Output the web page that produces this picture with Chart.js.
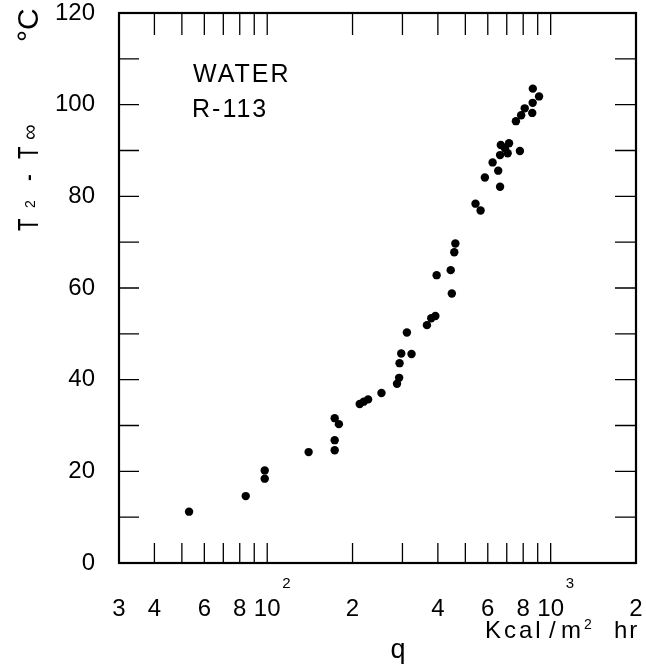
<!DOCTYPE html>
<html lang="en">
<head>
<meta charset="UTF-8">
<title>T2 - Tinf vs q (Water / R-113)</title>
<script src="https://cdn.jsdelivr.net/npm/chart.js@4/dist/chart.umd.min.js"></script>
<style>
  html, body { margin: 0; padding: 0; background: #fff; }
</style>
</head>
<body>
<canvas id="canvas" width="646" height="666"></canvas>
<script>
    // heat flux q, Kcal/m2 hr
    const qValues = [53, 84, 98, 98, 140, 173, 179, 173, 173, 212, 219, 227, 253, 287, 292, 293, 297, 323,
        311, 366, 379, 392, 396, 448, 444, 457, 461, 543, 566, 663, 586, 653, 624, 663, 705, 779,
        690, 667, 713, 754, 787, 810, 861, 864, 910, 865];
    // temperature difference T2 - Tinf, deg C
    const dtValues = [11.2, 14.6, 20.2, 18.4, 24.2, 31.6, 30.3, 26.8, 24.6, 34.7, 35.2, 35.7, 37.1, 39.1, 40.4, 43.6, 45.7, 45.6,
        50.3, 51.9, 53.4, 53.9, 62.8, 58.8, 63.9, 67.8, 69.7, 78.4, 76.9, 82.1, 84.1, 85.6, 87.4, 89.0, 89.4, 89.9,
        90.5, 91.2, 91.6, 96.4, 97.7, 99.2, 98.2, 100.4, 101.8, 103.5];

    // axis ticks
    const xTickValues = [30, 40, 50, 60, 70, 80, 90, 100, 200, 300, 400, 500, 600, 700, 800, 900, 1000, 2000];
    const xTickLabels = {30: '3', 40: '4', 60: '6', 80: '8', 100: '10', 200: '2', 400: '4', 600: '6', 800: '8', 1000: '10', 2000: '2'};
    const xTickPowers = {100: '2', 1000: '3'};
    const yTickValues = [0, 10, 20, 30, 40, 50, 60, 70, 80, 90, 100, 110, 120];
    const yTickLabels = {0: '0', 20: '20', 40: '40', 60: '60', 80: '80', 100: '100', 120: '120'};
    const notes = ['WATER', 'R-113'];

    const FONT = '"Liberation Sans", Arial, sans-serif';

    function font(size) {
        return size + 'px ' + FONT;
    }

    // no extra room for edge labels, the frame sits where the layout padding says
    function noPadding(s) {
        s.paddingLeft = 0;
        s.paddingRight = 0;
        s.paddingTop = 0;
        s.paddingBottom = 0;
    }

    // frame, inward tick marks, superscripts and titles
    const framePlugin = {
        id: 'frame',
        afterDraw(chart) {
            const {ctx, chartArea: a, scales: {x, y}} = chart;
            ctx.save();
            ctx.strokeStyle = '#000';
            ctx.fillStyle = '#000';

            ctx.lineWidth = 2.2;
            ctx.strokeRect(a.left, a.top, a.right - a.left, a.bottom - a.top);

            ctx.lineWidth = 1.3;
            ctx.beginPath();
            xTickValues.forEach(v => {
                if (v <= x.min || v >= x.max) return;
                const px = x.getPixelForValue(v);
                ctx.moveTo(px, a.bottom);
                ctx.lineTo(px, a.bottom - 20);
                ctx.moveTo(px, a.top);
                ctx.lineTo(px, a.top + 22);
            });
            yTickValues.forEach(v => {
                if (v <= y.min || v >= y.max) return;
                const py = y.getPixelForValue(v);
                ctx.moveTo(a.left, py);
                ctx.lineTo(a.left + 20, py);
                ctx.moveTo(a.right, py);
                ctx.lineTo(a.right - 21, py);
            });
            ctx.stroke();

            // powers of ten on the "10" labels
            ctx.font = font(15);
            ctx.textBaseline = 'alphabetic';
            ctx.textAlign = 'left';
            Object.keys(xTickPowers).forEach(k => {
                const px = x.getPixelForValue(Number(k));
                ctx.fillText(xTickPowers[k], px + 15, a.bottom + 25);
            });

            // annotation
            ctx.font = font(25);
            ctx.letterSpacing = '2px';
            ctx.fillText(notes[0], a.left + 74, a.top + 69);
            ctx.fillText(notes[1], a.left + 73, a.top + 104);
            ctx.letterSpacing = '0px';

            // x title
            ctx.font = font(27);
            ctx.textAlign = 'center';
            ctx.fillText('q', 398, 658);
            ctx.textAlign = 'left';
            ctx.font = font(24);
            ctx.letterSpacing = '3px';
            ctx.fillText('Kcal', 485, 638);
            ctx.letterSpacing = '0px';
            ctx.fillText('/', 549, 638);
            ctx.fillText('m', 561, 638);
            ctx.font = font(14);
            ctx.fillText('2', 584, 629);
            ctx.font = font(24);
            ctx.letterSpacing = '2px';
            ctx.fillText('hr', 614, 638);
            ctx.letterSpacing = '0px';

            // y title, rotated, reads bottom to top
            ctx.save();
            ctx.translate(38, 42);
            ctx.rotate(-Math.PI / 2);
            ctx.font = font(30);
            ctx.fillText('°C', 0, 0);
            ctx.restore();

            ctx.save();
            ctx.translate(38, 231);
            ctx.rotate(-Math.PI / 2);
            const parts = [
                ['T', 0, 0, 30],
                ['2', 23, -3, 14],
                ['-', 50, 0, 30],
                ['T', 72, 0, 30],
                ['\u221E', 91, -1, 22]
            ];
            parts.forEach(([t, dx, dy, s]) => {
                ctx.save();
                ctx.translate(dx, dy);
                ctx.scale(s > 25 ? 0.68 : 1, 1);
                ctx.font = font(s);
                ctx.fillText(t, 0, 0);
                ctx.restore();
            });
            ctx.restore();

            ctx.restore();
        }
    };

    const points = qValues.map((q, i) => ({x: q, y: dtValues[i]}));

    const ctx = document.getElementById('canvas').getContext('2d');
    new Chart(ctx, {
        type: 'scatter',
        data: {
            datasets: [{
                data: points,
                backgroundColor: '#000',
                borderColor: '#000',
                borderWidth: 0,
                pointRadius: 4.2,
                pointHoverRadius: 4.2
            }]
        },
        options: {
            responsive: false,
            animation: false,
            layout: {autoPadding: false, padding: {left: 0, right: 10, top: 13, bottom: 0}},
            plugins: {
                legend: {display: false},
                tooltip: {enabled: false}
            },
            scales: {
                x: {
                    type: 'logarithmic',
                    min: 30,
                    max: 2000,
                    afterBuildTicks: s => { s.ticks = xTickValues.map(v => ({value: v})); },
                    afterFit: s => { s.height = 103; noPadding(s); },
                    grid: {display: false},
                    border: {display: false},
                    ticks: {
                        autoSkip: false,
                        maxRotation: 0,
                        minRotation: 0,
                        padding: 24,
                        color: '#000',
                        font: {family: FONT, size: 24},
                        callback: v => xTickLabels[v] || ''
                    }
                },
                y: {
                    min: 0,
                    max: 120,
                    afterBuildTicks: s => { s.ticks = yTickValues.map(v => ({value: v})); },
                    afterFit: s => { s.width = 119; noPadding(s); },
                    grid: {display: false},
                    border: {display: false},
                    ticks: {
                        autoSkip: false,
                        padding: 16,
                        color: '#000',
                        font: {family: FONT, size: 24},
                        callback: v => yTickLabels[v] || ''
                    }
                }
            }
        },
        plugins: [framePlugin]
    });
</script>
</body>
</html>
